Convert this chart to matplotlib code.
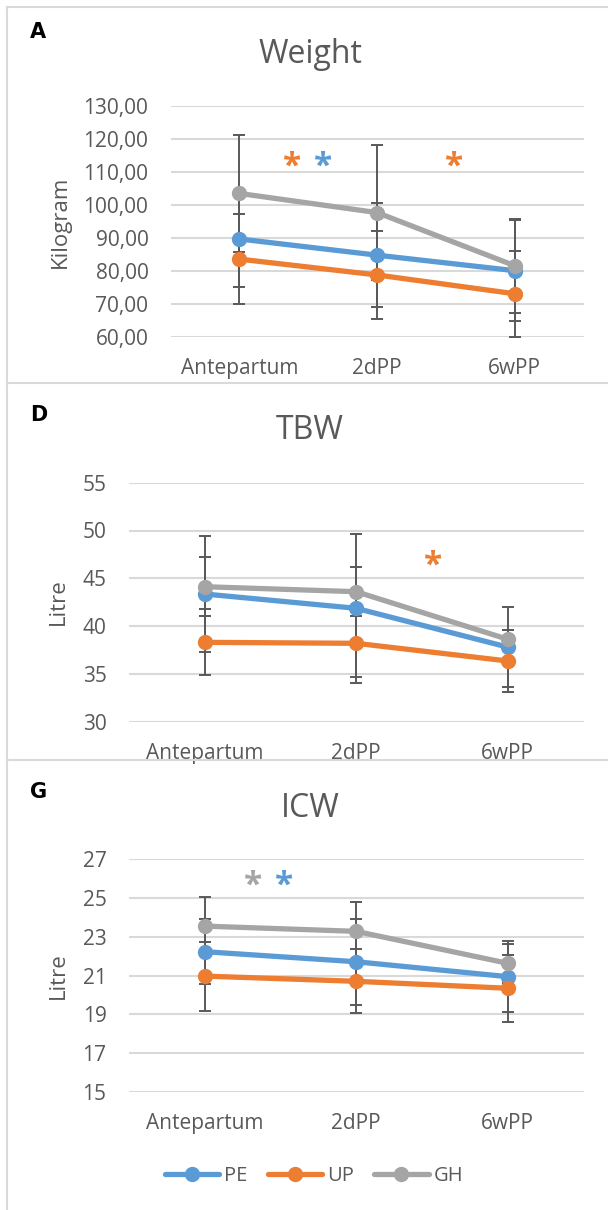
import matplotlib.pyplot as plt
from matplotlib.lines import Line2D
from matplotlib.ticker import FuncFormatter
import numpy as np

plt.rcParams['font.family'] = ['Open Sans', 'DejaVu Sans']

categories = ['Antepartum', '2dPP', '6wPP']
groups = ['PE', 'UP', 'GH']
colors = {'PE': '#5B9BD5', 'UP': '#ED7D31', 'GH': '#A5A5A5'}

# Weight (kg): mean and SD per group
weight_mean = {'PE': [89.7, 84.8, 80.1], 'UP': [83.6, 78.8, 73.1], 'GH': [103.5, 97.7, 81.6]}
weight_sd = {'PE': [14.5, 15.8, 15.4], 'UP': [13.7, 13.3, 13.1], 'GH': [17.8, 20.4, 14.2]}

# Total body water (L)
tbw_mean = {'PE': [43.36, 41.86, 37.8], 'UP': [38.3, 38.2, 36.35], 'GH': [44.12, 43.6, 38.62]}
tbw_sd = {'PE': [6.1, 7.77, 4.2], 'UP': [3.45, 3.5, 3.2], 'GH': [3.07, 2.59, 1.0]}

# Intracellular water (L)
icw_mean = {'PE': [22.23, 21.71, 20.94], 'UP': [20.97, 20.7, 20.34], 'GH': [23.55, 23.28, 21.63]}
icw_sd = {'PE': [1.69, 2.21, 1.85], 'UP': [1.78, 1.65, 1.72], 'GH': [1.49, 1.5, 1.0]}

# significance stars: (x position between categories, y value, group colour)
weight_stars = [(0.386, 113.6, 'UP'), (0.611, 113.6, 'PE'), (1.56, 113.6, 'UP')]
tbw_stars = [(1.505, 47, 'UP')]
icw_stars = [(0.32, 26, 'GH'), (0.525, 26, 'PE')]

W, H = 608, 1210
fig = plt.figure(figsize=(W / 100, H / 100), dpi=100)
text_col = '#595959'
grid_col = '#D9D9D9'


def px_axes(x0, y0, x1, y1):
    return fig.add_axes([x0 / W, 1 - y1 / H, (x1 - x0) / W, (y1 - y0) / H])


def draw_panel(ax, mean, sd, ylim, yticks, stars, fmt=None):
    x = np.arange(len(categories))
    for g in groups:
        ax.errorbar(x, mean[g], yerr=sd[g], fmt='none', ecolor='#595959',
                    elinewidth=1.4, capsize=4.3, capthick=1.4, zorder=2)
    for g in groups:
        ax.plot(x, mean[g], color=colors[g], lw=3.8, marker='o', ms=10,
                label=g, zorder=3, solid_capstyle='round')
    ax.set_xlim(-0.5, 2.5)
    ax.set_ylim(*ylim)
    ax.set_yticks(yticks)
    if fmt:
        ax.yaxis.set_major_formatter(FuncFormatter(fmt))
    ax.set_xticks(x)
    ax.set_xticklabels(categories)
    ax.grid(axis='y', color=grid_col, lw=1.5, zorder=0)
    ax.set_axisbelow(True)
    for s in ax.spines.values():
        s.set_visible(False)
    ax.tick_params(axis='both', length=0, labelsize=15, labelcolor=text_col)
    ax.tick_params(axis='y', pad=16)
    ax.tick_params(axis='x', pad=15)
    ax.set_facecolor('none')
    for sx, sy, g in stars:
        ax.annotate('*', (sx, sy), xytext=(0, -11.2), textcoords='offset points',
                    ha='center', va='baseline', fontsize=24, fontweight='bold',
                    color=colors[g])


def fig_text(x, y, s, **kw):
    fig.text(x / W, 1 - y / H, s, **kw)


# panel frames
for y in (7, 383, 760):
    fig.add_artist(Line2D([7 / W, 1], [1 - y / H] * 2, color=grid_col, lw=1.5))
fig.add_artist(Line2D([7 / W] * 2, [1 - 7 / H, 0], color=grid_col, lw=1.5))

ax_a = px_axes(170.6, 106, 583.6, 337)
draw_panel(ax_a, weight_mean, weight_sd, (60, 130), np.arange(60, 131, 10), weight_stars,
           fmt=lambda v, p: f'{v:.2f}'.replace('.', ','))
ax_d = px_axes(128.7, 482.7, 583.6, 721.7)
draw_panel(ax_d, tbw_mean, tbw_sd, (30, 55), np.arange(30, 56, 5), tbw_stars)
ax_g = px_axes(128.7, 859.3, 583.6, 1091.7)
draw_panel(ax_g, icw_mean, icw_sd, (15, 27), np.arange(15, 28, 2), icw_stars)

# titles, y labels and panel letters
for base, title in [(63, 'Weight'), (439, 'TBW'), (817, 'ICW')]:
    fig_text(310, base, title, ha='center', va='baseline', fontsize=23, color=text_col)
for cx, cy, lab in [(60, 222, 'Kilogram'), (58, 602, 'Litre'), (58, 975.5, 'Litre')]:
    fig_text(cx, cy, lab, ha='center', va='center', rotation=90, fontsize=16, color=text_col)
for base, letter in [(38, 'A'), (421, 'D'), (798, 'G')]:
    fig_text(30, base, letter, ha='left', va='baseline', fontsize=15,
             fontweight='bold', family='DejaVu Sans', color='black')

handles, labels = ax_g.get_legend_handles_labels()
fig.legend(handles, labels, loc='center', bbox_to_anchor=(314 / W, 1 - 1176 / H),
           ncol=3, frameon=False, fontsize=14.5, handlelength=2.7, handletextpad=0.25,
           columnspacing=1.0, labelcolor=text_col)

fig.savefig('out.png', dpi=100, facecolor='white')
